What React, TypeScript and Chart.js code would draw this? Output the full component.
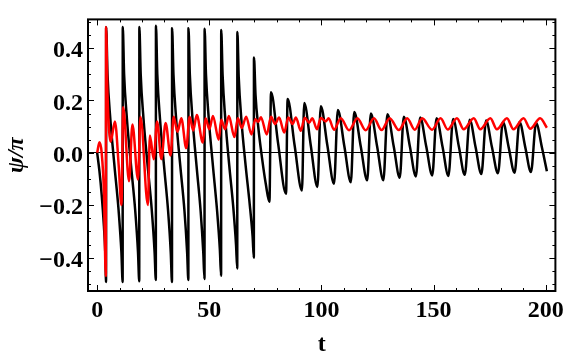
import React, { useEffect, useRef } from "react";
import { Chart, registerables } from "chart.js";

Chart.register(...registerables);

// black curve: [t, psi/pi]
const blackPts: [number, number][] = [
  [0, 0], [1, -0.07], [2, -0.16], [3, -0.28], [3.6, -0.38], [3.95, -0.493],
  [4.0, 0.479], [4.6, 0.3], [5.85, 0.13], [7.7, -0.05], [9.55, -0.22], [10.8, -0.38], [11.35, -0.493],
  [11.4, 0.48], [12.0, 0.3], [13.25, 0.13], [15.1, -0.05], [16.95, -0.22], [18.2, -0.38], [18.75, -0.49],
  [18.8, 0.48], [19.4, 0.3], [20.65, 0.13], [22.5, -0.05], [24.35, -0.22], [25.6, -0.38], [26.15, -0.485],
  [26.2, 0.485], [26.8, 0.3], [28.0, 0.13], [29.8, -0.05], [31.6, -0.22], [32.8, -0.38], [33.35, -0.493],
  [33.4, 0.475], [34.0, 0.3], [35.2, 0.13], [37.05, -0.05], [38.9, -0.22], [40.1, -0.38], [40.65, -0.485],
  [40.7, 0.475], [41.3, 0.3], [42.5, 0.13], [44.3, -0.05], [46.1, -0.22], [47.3, -0.38], [47.85, -0.481],
  [47.9, 0.473], [48.5, 0.3], [49.75, 0.13], [51.6, -0.05], [53.45, -0.22], [54.7, -0.37], [55.25, -0.469],
  [55.3, 0.469], [55.9, 0.3], [57.1, 0.13], [58.9, -0.05], [60.7, -0.21], [61.9, -0.35], [62.45, -0.441],
  [62.5, 0.461], [63.1, 0.29], [64.35, 0.12], [66.2, -0.05], [68.05, -0.2], [69.3, -0.32], [69.85, -0.4],
  [69.9, 0.364], [70.6, 0.22], [71.8, 0.1], [73.5, -0.02], [75.2, -0.12], [76.8, -0.187],
  [77.5, 0.231], [80.6, 0.04], [84.2, -0.156],
  [84.9, 0.205], [88.0, 0.03], [91.3, -0.144],
  [92.3, 0.19], [95.2, 0.03], [98.2, -0.13],
  [99.7, 0.178], [102.6, 0.03], [105.6, -0.118],
  [107.3, 0.163], [110.2, 0.025], [113.1, -0.112],
  [114.6, 0.156], [117.5, 0.025], [120.4, -0.105],
  [122.0, 0.15], [124.8, 0.025], [127.6, -0.105],
  [129.4, 0.147], [132.2, 0.025], [134.9, -0.095],
  [136.7, 0.138], [139.4, 0.025], [142.1, -0.09],
  [144.0, 0.135], [146.7, 0.025], [149.4, -0.086],
  [151.3, 0.132], [154.0, 0.022], [156.6, -0.088],
  [158.7, 0.129], [161.3, 0.022], [163.9, -0.084],
  [166.1, 0.126], [168.7, 0.022], [171.3, -0.081],
  [173.4, 0.123], [176.0, 0.022], [178.7, -0.078],
  [180.9, 0.118], [183.5, 0.02], [186.1, -0.076],
  [188.3, 0.118], [190.9, 0.02], [193.4, -0.073],
  [195.7, 0.114], [198.3, 0.02], [200.5, -0.07],
];

// red curve: [t, psi/pi]
const redPts: [number, number][] = [
  [0, 0], [1.0, 0.04], [2.0, 0.0], [3.0, -0.15], [3.85, -0.47], [3.95, 0.48], [4.6, 0.22],
  [6.0, 0.042], [7.9, 0.12], [9.6, -0.05], [10.8, -0.199], [11.6, 0.174], [14.2, -0.108],
  [15.7, 0.108], [18.2, -0.102], [19.3, 0.138], [22.6, -0.199], [23.5, 0.066], [25.2, -0.024],
  [26.7, 0.12], [28.6, -0.024], [30.5, 0.114], [32.7, -0.01], [34.1, 0.138], [35.8, 0.08],
  [37.5, 0.132], [39.7, 0.018], [41.2, 0.138], [42.8, 0.085], [44.4, 0.144], [47.1, 0.039],
  [48.3, 0.132], [50.0, 0.09], [51.6, 0.141], [54.2, 0.05], [55.3, 0.126], [57.0, 0.09],
  [58.7, 0.141], [61.2, 0.06], [62.7, 0.132], [64.5, 0.095], [66.4, 0.138], [68.8, 0.07],
  [70.5, 0.128], [71.8, 0.118], [73.0, 0.136], [75.6, 0.07], [77.5, 0.138], [79.3, 0.11],
  [81.1, 0.135], [83.4, 0.078], [85.2, 0.135], [87.1, 0.11], [88.6, 0.135], [90.8, 0.084],
  [92.5, 0.134], [94.5, 0.115], [95.9, 0.132], [98.0, 0.09], [99.7, 0.133], [101.9, 0.12],
  [103.2, 0.132], [105.6, 0.088], [108.6, 0.132], [112.3, 0.086], [116.0, 0.132], [119.7, 0.086],
  [123.4, 0.132], [126.8, 0.087], [130.4, 0.132], [134.5, 0.087], [138.2, 0.132], [141.6, 0.088],
  [144.9, 0.132], [149.3, 0.088], [153.1, 0.132], [156.3, 0.089], [160.4, 0.132], [163.4, 0.09],
  [167.9, 0.132], [170.8, 0.09], [175.3, 0.132], [178.2, 0.09], [182.7, 0.132], [185.6, 0.09],
  [190.1, 0.132], [193.1, 0.092], [197.5, 0.132], [200.5, 0.096],
];

const xTickValues = [0, 50, 100, 150, 200];
const xTickLabels = ["0", "50", "100", "150", "200"];
const yTickValues = [-0.4, -0.2, 0, 0.2, 0.4];
const yTickLabels = ["\u22120.4", "\u22120.2", "0.0", "0.2", "0.4"];
const xTitle = "t";
const yTitle = "\u03c8/\u03c0";

const FONT = "'Liberation Serif', 'Times New Roman', serif";

export default function App() {
  const ref = useRef<HTMLCanvasElement>(null);

  useEffect(() => {
    if (!ref.current) return;
    const framePlugin = {
      id: "frame",
      afterDraw(chart: any) {
        const { ctx, chartArea: a, scales } = chart;
        const xs = scales.x;
        const ys = scales.y;
        ctx.save();
        ctx.strokeStyle = "#000";
        ctx.lineWidth = 1;
        ctx.beginPath();
        for (let v = 0; v <= 200; v += 10) {
          const px = Math.round(xs.getPixelForValue(v)) + 0.5;
          const len = v % 50 === 0 ? 6 : 3;
          ctx.moveTo(px, a.bottom);
          ctx.lineTo(px, a.bottom - len);
          ctx.moveTo(px, a.top);
          ctx.lineTo(px, a.top + len);
        }
        for (let k = -10; k <= 10; k++) {
          const py = Math.round(ys.getPixelForValue(k * 0.05)) + 0.5;
          const len = k % 4 === 0 ? 6 : 3;
          ctx.moveTo(a.left, py);
          ctx.lineTo(a.left + len, py);
          ctx.moveTo(a.right, py);
          ctx.lineTo(a.right - len, py);
        }
        ctx.stroke();
        ctx.lineWidth = 2;
        ctx.strokeRect(a.left, a.top, a.right - a.left, a.bottom - a.top);
        ctx.restore();
      },
    };

    const chart = new Chart(ref.current, {
      type: "line",
      data: {
        datasets: [
          {
            label: "red",
            data: redPts.map(([x, y]) => ({ x, y })),
            borderColor: "#ff0000",
            borderWidth: 2.5,
            pointRadius: 0,
            cubicInterpolationMode: "monotone",
            order: 1,
          },
          {
            label: "black",
            data: blackPts.map(([x, y]) => ({ x, y })),
            borderColor: "#000000",
            borderWidth: 2.5,
            pointRadius: 0,
            cubicInterpolationMode: "monotone",
            order: 2,
          },
        ],
      },
      options: {
        animation: false,
        responsive: false,
        events: [],
        layout: { padding: { left: 0, right: 12, top: 4, bottom: 0 } },
        plugins: { legend: { display: false }, tooltip: { enabled: false } },
        scales: {
          x: {
            type: "linear",
            min: -4.1,
            max: 204.3,
            afterBuildTicks: (s: any) => {
              s.ticks = xTickValues.map((v) => ({ value: v }));
            },
            afterFit: (s: any) => {
              s.height = 68;
            },
            ticks: {
              autoSkip: false,
              maxRotation: 0,
              padding: 5,
              color: "#000",
              font: { family: FONT, weight: "bold", size: 24 },
              callback: (v: any) => {
                const i = xTickValues.indexOf(Number(v));
                return i >= 0 ? xTickLabels[i] : "";
              },
            },
            grid: { display: false, drawTicks: false },
            border: { display: false },
            title: {
              display: true,
              text: xTitle,
              color: "#000",
              font: { family: FONT, weight: "bold", size: 24 },
              padding: { top: 0, bottom: 0 },
            },
          },
          y: {
            type: "linear",
            min: -0.527,
            max: 0.509,
            afterBuildTicks: (s: any) => {
              s.ticks = yTickValues.map((v) => ({ value: v }));
            },
            afterFit: (s: any) => {
              s.width = 88;
            },
            ticks: {
              padding: 5,
              labelOffset: 3,
              color: "#000",
              font: { family: FONT, weight: "bold", size: 24 },
              callback: (v: any) => {
                const i = yTickValues.findIndex((t) => Math.abs(t - Number(v)) < 1e-9);
                return i >= 0 ? yTickLabels[i] : "";
              },
            },
            grid: {
              drawTicks: false,
              lineWidth: 1,
              color: (c: any) =>
                c.tick && Math.abs(c.tick.value) < 1e-9 ? "#000000" : "rgba(0,0,0,0)",
            },
            border: { display: false },
            title: {
              display: true,
              text: yTitle,
              color: "#000",
              font: { family: FONT, weight: "bold", style: "italic", size: 24 },
              padding: { top: 2, bottom: 0 },
            },
          },
        },
      },
      plugins: [framePlugin],
    } as any);

    return () => chart.destroy();
  }, []);

  return (
    <canvas
      ref={ref}
      width={569}
      height={359}
      style={{ position: "absolute", left: 0, top: 0, display: "block" }}
    />
  );
}
